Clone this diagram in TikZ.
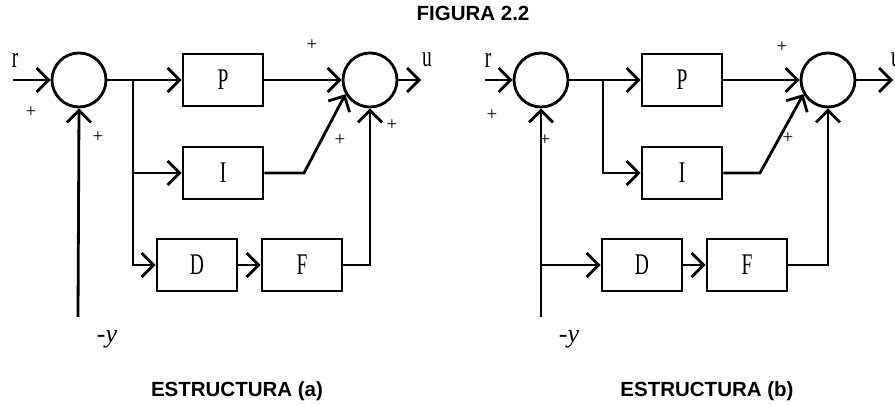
\documentclass[tikz,border=0pt]{standalone}
\usepackage{fontspec}
\setmainfont{Liberation Serif}
\newfontfamily\headfont{Liberation Sans}
\usetikzlibrary{arrows.meta}
\tikzset{
  sumnode/.style={circle,draw,line width=2.8pt,minimum size=54pt,inner sep=0pt},
  blk/.style={rectangle,draw,line width=2.6pt,minimum width=80pt,minimum height=52pt,inner sep=0pt,font=\fontsize{30}{30}\selectfont},
  sig/.style={line width=2.8pt,-{Straight Barb[length=12pt,width=24pt,line width=2.8pt]}},
  sgn/.style={font=\fontsize{19}{19}\selectfont,inner sep=0pt},
  var/.style={font=\fontsize{30}{30}\selectfont,inner sep=0pt},
  yvar/.style={font=\fontsize{26}{26}\selectfont,inner sep=0pt},
  head/.style={font=\headfont\bfseries\fontsize{20.5}{20.5}\selectfont,inner sep=0pt}
}
\newcommand{\nar}[1]{\scalebox{0.65}[1]{#1}}
\begin{document}
\begin{tikzpicture}[x=1pt,y=-1pt]
\useasboundingbox (0,0) rectangle (895,406);
% titles
\node[head] (title) at (473,13) {FIGURA 2.2};
\node[head] (capa) at (237,391) {ESTRUCTURA (a)};
\node[head] (capb) at (707,391) {ESTRUCTURA (b)};
% ===== Structure (a)
\node[sumnode] (s1a) at (79,80) {};
\node[sumnode] (s2a) at (370,80) {};
\node[blk] (Pa) at (223,80) {\nar{P}};
\node[blk] (Ia) at (223,173) {\nar{I}};
\node[blk] (Da) at (197,265) {\nar{D}};
\node[blk] (Fa) at (302,265) {\nar{F}};
\coordinate (ra) at (13,80);
\coordinate (ya) at (78,317);
\coordinate (ba) at (133,80);
\coordinate (ka) at (304,173);
\coordinate (ua) at (421,80);
\draw[sig] (ra) -- (s1a.west);
\draw[sig] (ya) -- (s1a.south);
\draw[sig] (s1a.east) -- (Pa.west);
\draw[sig] (ba) |- (Ia.west);
\draw[sig] (ba) |- (Da.west);
\draw[sig] (Da.east) -- (Fa.west);
\draw[sig] (Pa.east) -- (s2a.west);
\draw[sig] (Ia.east) -- (ka) -- (s2a.210);
\draw[sig] (Fa.east) -| (s2a.south);
\draw[sig] (s2a.east) -- (ua);
\node[var] (lra) at (15,60) {\nar{r}};
\node[var] (lua) at (427,60) {\nar{u}};
\node[yvar] (lya) at (107,339) {\textit{-y}};
\node[sgn] (pa1) at (31,112) {+};
\node[sgn] (pa2) at (98,137) {+};
\node[sgn] (pa3) at (312,45) {+};
\node[sgn] (pa4) at (340,140) {+};
\node[sgn] (pa5) at (392,125) {+};
% ===== Structure (b)
\node[sumnode] (s1b) at (541,80) {};
\node[sumnode] (s2b) at (828,80) {};
\node[blk] (Pb) at (682,80) {\nar{P}};
\node[blk] (Ib) at (682,173) {\nar{I}};
\node[blk] (Db) at (642,265) {\nar{D}};
\node[blk] (Fb) at (747,265) {\nar{F}};
\coordinate (rb) at (485,80);
\coordinate (yb) at (541,317);
\coordinate (bb) at (603,80);
\coordinate (db) at (541,265);
\coordinate (kb) at (760,173);
\coordinate (ub) at (893,80);
\draw[sig] (rb) -- (s1b.west);
\draw[sig] (yb) -- (s1b.south);
\draw[sig] (s1b.east) -- (Pb.west);
\draw[sig] (bb) |- (Ib.west);
\draw[sig] (db) -- (Db.west);
\draw[sig] (Db.east) -- (Fb.west);
\draw[sig] (Pb.east) -- (s2b.west);
\draw[sig] (Ib.east) -- (kb) -- (s2b.210);
\draw[sig] (Fb.east) -| (s2b.south);
\draw[sig] (s2b.east) -- (ub);
\node[var] (lrb) at (488,60) {\nar{r}};
\node[var,anchor=west] (lub) at (891,60) {\nar{u}};
\node[yvar] (lyb) at (569,339) {\textit{-y}};
\node[sgn] (pb1) at (492,115) {+};
\node[sgn] (pb2) at (545,140) {+};
\node[sgn] (pb3) at (782,47) {+};
\node[sgn] (pb4) at (788,138) {+};
\end{tikzpicture}
\end{document}
